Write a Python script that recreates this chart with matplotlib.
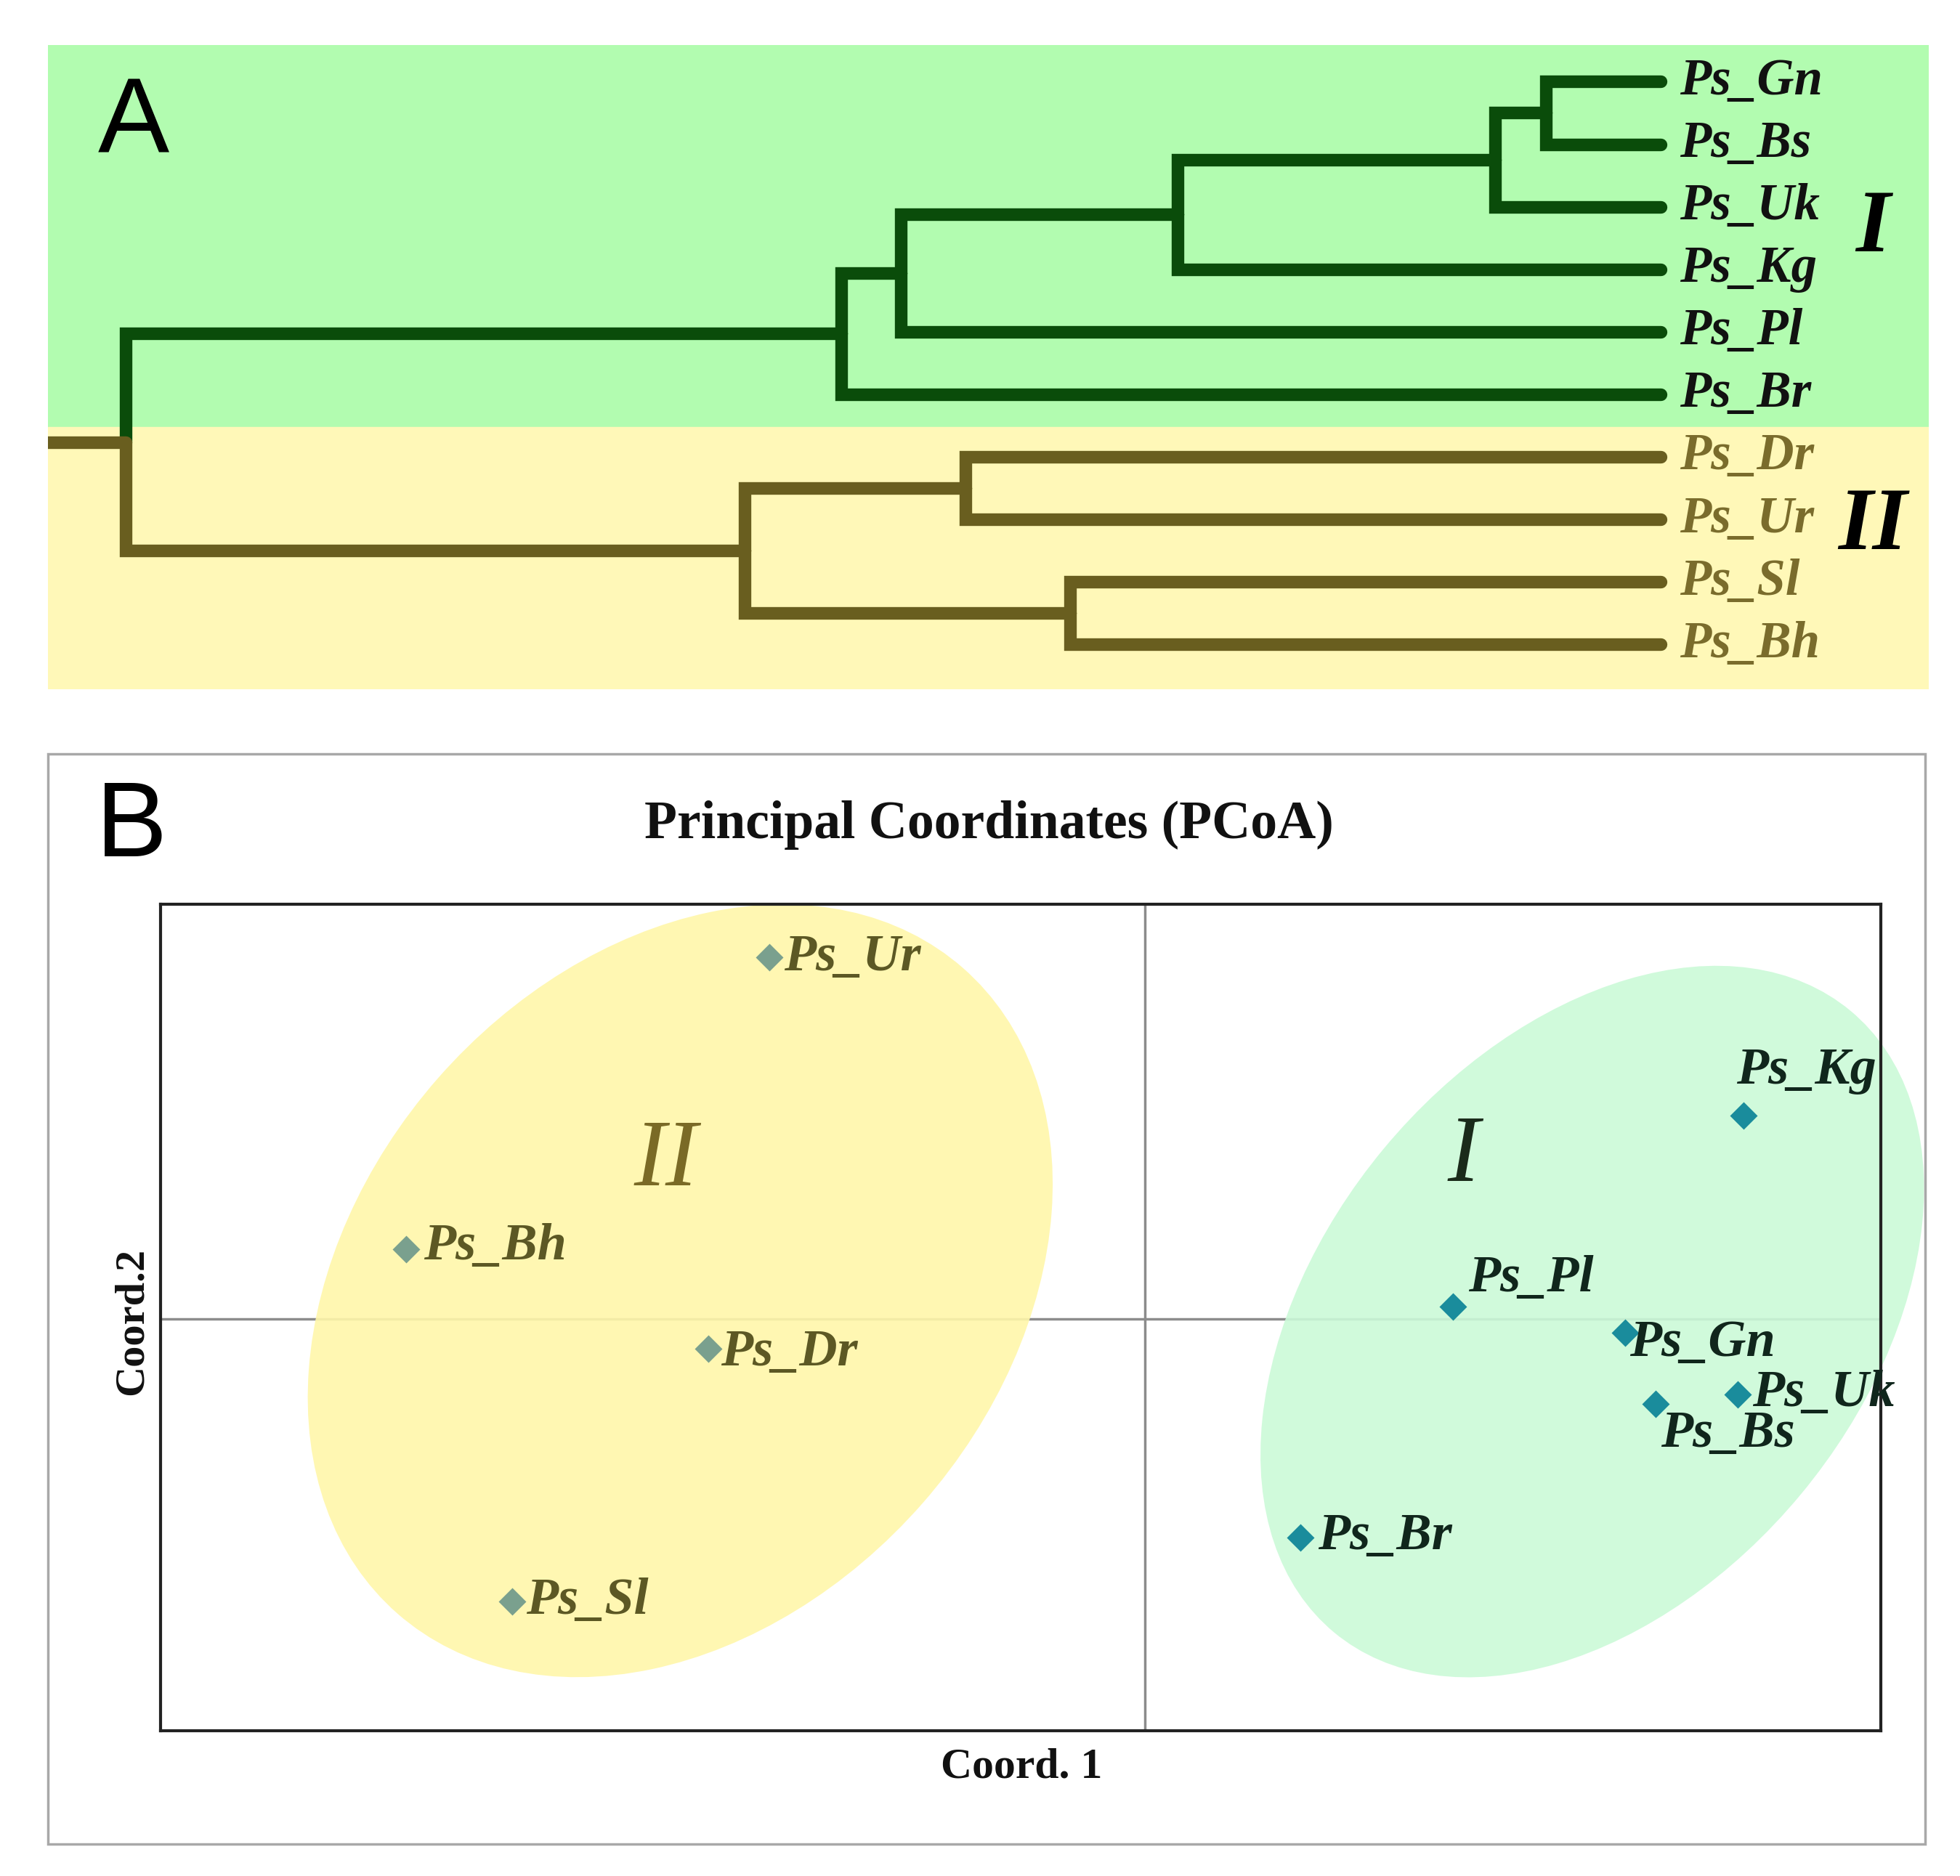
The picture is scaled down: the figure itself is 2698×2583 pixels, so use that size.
import matplotlib
matplotlib.use("Agg")
import matplotlib.pyplot as plt
from matplotlib.patches import Rectangle, Ellipse
import numpy as np

# ---------------- data ----------------
leaves = ["Ps_Gn", "Ps_Bs", "Ps_Uk", "Ps_Kg", "Ps_Pl", "Ps_Br",
          "Ps_Dr", "Ps_Ur", "Ps_Sl", "Ps_Bh"]
leaf_group = ["I", "I", "I", "I", "I", "I", "II", "II", "II", "II"]
# linkage: (child a, child b, height); node ids >= 10 are merges in order
merges = [
    (0, 1, 0.075),    # 10 Gn-Bs
    (10, 2, 0.108),   # 11 +Uk
    (11, 3, 0.315),   # 12 +Kg
    (12, 4, 0.495),   # 13 +Pl
    (13, 5, 0.534),   # 14 +Br  (cluster I)
    (6, 7, 0.453),    # 15 Dr-Ur
    (8, 9, 0.385),    # 16 Sl-Bh
    (15, 16, 0.597),  # 17 cluster II
    (14, 17, 1.000),  # 18 root
]
root_stub = 1.05

pcoa_names = ["Ps_Ur", "Ps_Bh", "Ps_Dr", "Ps_Sl",
              "Ps_Kg", "Ps_Pl", "Ps_Gn", "Ps_Uk", "Ps_Bs", "Ps_Br"]
pcoa_group = ["II", "II", "II", "II", "I", "I", "I", "I", "I", "I"]
coord1 = [-0.427, -0.840, -0.496, -0.719, 0.681, 0.351, 0.546, 0.674, 0.581, 0.177]
coord2 = [0.411, 0.079, -0.034, -0.321, 0.231, 0.014, -0.016, -0.086, -0.097, -0.249]

# group ellipses (centre x, centre y, major, minor, angle)
ell_II = (-0.528, 0.032, 0.976, 0.733, 48.8)
ell_I = (0.509, -0.003, 0.919, 0.616, 50.3)

# ---------------- style ----------------
W, H = 1560.0, 1493.5
fig = plt.figure(figsize=(26.98, 25.83), dpi=100)
fig.patch.set_facecolor("white")

def fr(x0, y0, x1, y1):
    return [x0 / W, 1 - y1 / H, (x1 - x0) / W, (y1 - y0) / H]

DARK_GREEN = "#0a4c0a"
OLIVE = "#695e1f"
BG_GREEN = "#b2fcb0"
BG_YELLOW = "#fff8b8"
SERIF = ["Liberation Serif", "DejaVu Serif"]

# ---------------- Panel A: dendrogram ----------------
axA = fig.add_axes(fr(38, 36, 1535, 549))
y_top = (36 - 65) / 49.78
y_bot = (549 - 65) / 49.78
y_split = (340 - 65) / 49.78
x_left = (1322 - 38) / 1222.0
x_right = (1322 - 1535) / 1222.0
axA.set_xlim(x_left, x_right)
axA.set_ylim(y_bot, y_top)
axA.axis("off")
axA.axhspan(y_top, y_split, color=BG_GREEN, zorder=0)
axA.axhspan(y_split, y_bot, color=BG_YELLOW, zorder=0)

pos = {i: float(i) for i in range(len(leaves))}
hgt = {i: 0.0 for i in range(len(leaves))}
grp = {i: leaf_group[i] for i in range(len(leaves))}
lw = 12.5
for k, (a, b, h) in enumerate(merges):
    nid = len(leaves) + k
    ya, yb = pos[a], pos[b]
    ym = (ya + yb) / 2
    ga, gb = grp[a], grp[b]
    ca = DARK_GREEN if ga == "I" else OLIVE
    cb = DARK_GREEN if gb == "I" else OLIVE
    axA.plot([hgt[a], h, h], [ya, ya, ym], color=ca, lw=lw,
             solid_capstyle="round", solid_joinstyle="miter", zorder=2)
    axA.plot([hgt[b], h, h], [yb, yb, ym], color=cb, lw=lw,
             solid_capstyle="round", solid_joinstyle="miter", zorder=2)
    pos[nid], hgt[nid] = ym, h
    grp[nid] = ga if ga == gb else "II"
root = len(leaves) + len(merges) - 1
axA.plot([hgt[root], root_stub + 0.1], [pos[root], pos[root]], color=OLIVE,
         lw=lw, solid_capstyle="butt", zorder=2)

for i, name in enumerate(leaves):
    axA.text(-0.012, i, name, fontsize=51, fontweight="bold", style="italic",
             family=SERIF, va="center", ha="left",
             color="#111111" if leaf_group[i] == "I" else "#7a6c2c", zorder=3)
axA.text(-0.138, (183 - 65) / 49.78, "I", fontsize=88, fontweight="bold",
         style="italic", family=SERIF, ha="center", va="center", color="black")
axA.text(-0.138, (420 - 65) / 49.78, "II", fontsize=88, fontweight="bold",
         style="italic", family=SERIF, ha="center", va="center", color="black")
fig.text(78 / W, 1 - 100 / H, "A", fontsize=106, family="Liberation Sans",
         ha="left", va="center", color="black")

# ---------------- Panel B: PCoA ----------------
fig.patches.append(Rectangle((38 / W, 1 - 1468 / H), (1532 - 38) / W,
                             (1468 - 600) / H, transform=fig.transFigure,
                             fill=False, edgecolor="#a8a8a8", lw=2.5, zorder=0))
fig.text(76 / W, 1 - 660 / H, "B", fontsize=106, family="Liberation Sans",
         ha="left", va="center", color="black")
fig.text(787 / W, 1 - 657 / H, "Principal Coordinates (PCoA)", fontsize=53,
         fontweight="bold", family=SERIF, ha="center", va="center", color="#111111")
fig.text(813 / W, 1 - 1407 / H, "Coord. 1", fontsize=43, fontweight="bold",
         family=SERIF, ha="center", va="center", color="#111111")
fig.text(105 / W, 1 - 1052 / H, "Coord.2", fontsize=42, fontweight="bold",
         family=SERIF, ha="center", va="center", rotation=90, color="#111111")

axB = fig.add_axes(fr(128, 720, 1497, 1378))
scale = 700.0
axB.set_xlim((128 - 911) / scale, (1497 - 911) / scale)
axB.set_ylim((1050 - 1378) / scale, (1050 - 720) / scale)
axB.set_xticks([])
axB.set_yticks([])
for s in axB.spines.values():
    s.set_linewidth(3)
    s.set_color("#222222")
axB.axhline(0, color="#8c8c8c", lw=2.5, zorder=1)
axB.axvline(0, color="#8c8c8c", lw=2.5, zorder=1)

for (cx, cy, w, h, ang), col in ((ell_II, "#fff7aa"), (ell_I, "#cbfad8")):
    e = Ellipse((cx, cy), w, h, angle=ang, facecolor=col, edgecolor="none",
                alpha=0.9, zorder=2, clip_on=False)
    axB.add_patch(e)

label_off = {
    "Ps_Ur": (12, 0, "left", "center"),
    "Ps_Bh": (14, 2, "left", "center"),
    "Ps_Dr": (10, -3, "left", "center"),
    "Ps_Sl": (11, 0, "left", "center"),
    "Ps_Kg": (-6, 36, "left", "center"),
    "Ps_Pl": (12, 22, "left", "center"),
    "Ps_Gn": (4, -8, "left", "center"),
    "Ps_Uk": (12, 1, "left", "center"),
    "Ps_Bs": (4, -24, "left", "center"),
    "Ps_Br": (14, 1, "left", "center"),
}
for name, g, x, y in zip(pcoa_names, pcoa_group, coord1, coord2):
    mc = "#1a8c9c" if g == "I" else "#7aa08e"
    tc = "#10261c" if g == "I" else "#5c5824"
    axB.plot([x], [y], marker="D", ms=19, color=mc, mec="none", zorder=4,
             clip_on=False)
    dx, dy, ha, va = label_off[name]
    axB.annotate(name, (x, y), xytext=(dx * 1.7295 * 0.72, dy * 1.7295 * 0.72),
                 textcoords="offset points", fontsize=52, style="italic",
                 fontweight="bold", family=SERIF, ha=ha, va=va, color=tc,
                 zorder=5, annotation_clip=False)

axB.text((530 - 911) / scale, (1050 - 925) / scale, "II", fontsize=95,
         style="italic", family=SERIF, ha="center", va="center",
         color="#7a6a26", zorder=5)
axB.text((1165 - 911) / scale, (1050 - 922) / scale, "I", fontsize=95,
         style="italic", family=SERIF, ha="center", va="center",
         color="#1a2a1a", zorder=5)

fig.savefig("out.png", dpi=100, facecolor="white")
